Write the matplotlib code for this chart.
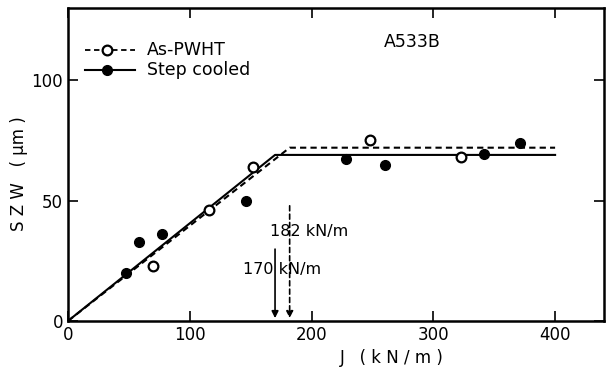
import numpy as np
import matplotlib.pyplot as plt

# As-PWHT (open circles)
pwht_j = [70, 116, 152, 248, 323]
pwht_szw = [23, 46, 64, 75, 68]

# Step cooled (filled circles)
step_j = [48, 58, 77, 146, 228, 260, 342, 371]
step_szw = [20, 33, 36, 50, 67.5, 65, 69.5, 74]

# bilinear fits: knee J and plateau SZW
pwht_knee, pwht_plateau = 182, 72
step_knee, step_plateau = 170, 69
j_end = 400

fig = plt.figure(figsize=(6.13, 3.71), dpi=100)
ax = fig.add_axes([0.111, 0.135, 0.874, 0.843])

ax.plot([0, pwht_knee, j_end], [0, pwht_plateau, pwht_plateau],
        color="black", lw=1.5, ls=(0, (3, 2)))
ax.plot([0, step_knee, j_end], [0, step_plateau, step_plateau],
        color="black", lw=1.5, ls="-")

ax.plot(pwht_j, pwht_szw, "o", ms=7, mfc="white", mec="black", mew=1.6)
ax.plot(step_j, step_szw, "o", ms=7, mfc="black", mec="black")

# arrows marking the knee points
ax.annotate("", xy=(step_knee, 0), xytext=(step_knee, 31),
            arrowprops=dict(arrowstyle="-|>", color="black", lw=1.2,
                            mutation_scale=10))
ax.annotate("", xy=(pwht_knee, 0), xytext=(pwht_knee, 49),
            arrowprops=dict(arrowstyle="-|>", color="black", lw=1.2,
                            ls=(0, (3, 2)), mutation_scale=10))
ax.text(144, 21.5, f"{step_knee} kN/m", fontsize=11.5, va="center")
ax.text(166, 37, f"{pwht_knee} kN/m", fontsize=11.5, va="center")

# legend drawn by hand
ax.plot([14, 55], [112.5, 112.5], color="black", lw=1.3, ls=(0, (3, 2)))
ax.plot([32], [112.5], "o", ms=7, mfc="white", mec="black", mew=1.6)
ax.text(65, 112.5, "As-PWHT", fontsize=12.5, va="center")
ax.plot([14, 55], [104.5, 104.5], color="black", lw=1.5)
ax.plot([32], [104.5], "o", ms=7, mfc="black", mec="black")
ax.text(65, 104.5, "Step cooled", fontsize=12.5, va="center")
ax.text(259, 116, "A533B", fontsize=12.5, va="center")

ax.set_xlim(0, 440)
ax.set_ylim(0, 130)
ax.set_xticks([0, 100, 200, 300, 400])
ax.set_yticks([0, 50, 100])
ax.tick_params(direction="in", top=True, right=True, length=7, width=1.2,
               labelsize=12)
for s in ax.spines.values():
    s.set_linewidth(1.8)

ax.set_xlabel("J   ( k N / m )", fontsize=12)
ax.xaxis.set_label_coords(0.605, -0.09)
ax.set_ylabel("S Z W   ( μm )", fontsize=12)
ax.yaxis.set_label_coords(-0.075, 0.47)

fig.savefig("out.png", dpi=100)
